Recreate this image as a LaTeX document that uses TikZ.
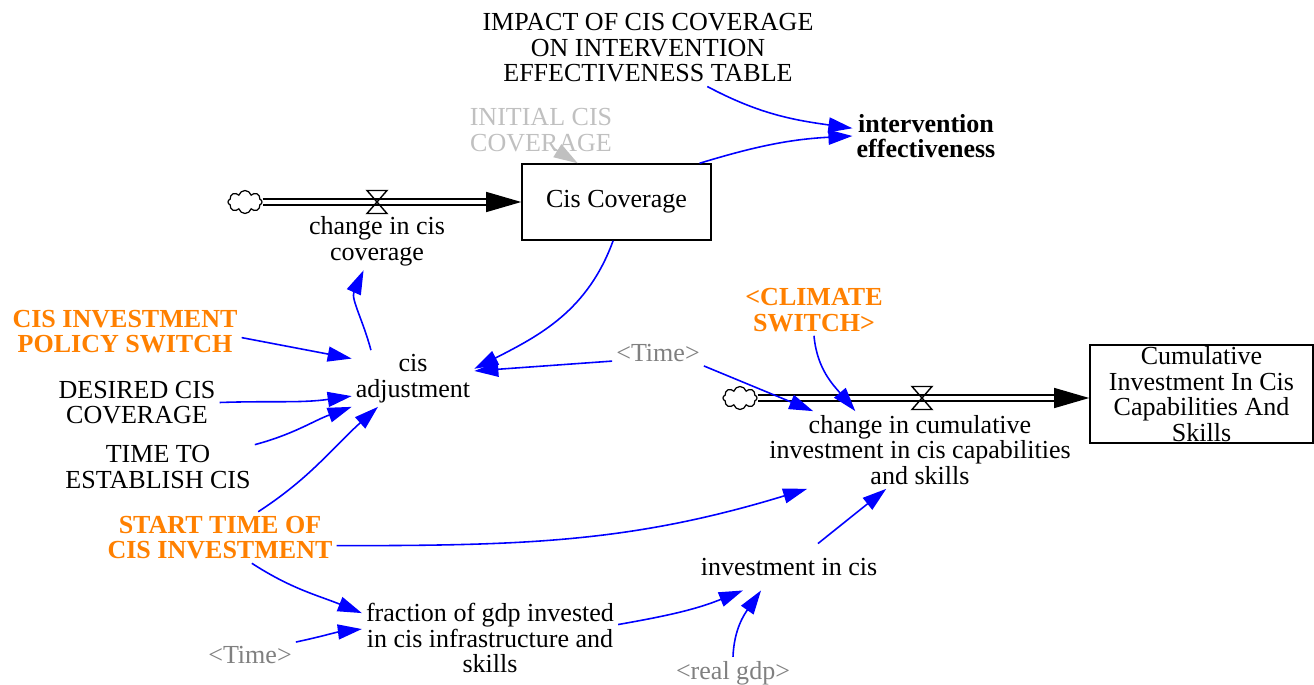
\documentclass[tikz,border=0pt]{standalone}
\usepackage{fontspec}
\setmainfont{Liberation Serif}
\usetikzlibrary{arrows.meta,shapes.symbols}
\definecolor{sdorange}{RGB}{255,128,0}
\definecolor{shadowgray}{RGB}{128,128,128}
\definecolor{initgray}{RGB}{192,192,192}
\newcommand{\sdfont}{\fontsize{7.4}{7.25}\selectfont}
\tikzset{
  varname/.style={align=center, inner sep=1pt, font=\sdfont},
  switchname/.style={varname, text=sdorange, font=\sdfont\bfseries},
  shadowname/.style={varname, text=shadowgray},
  initname/.style={varname, text=initgray},
  stockbox/.style={draw, line width=0.4pt, align=center, inner sep=0pt, font=\sdfont},
  cloudsrc/.style={cloud, cloud puffs=8, draw, line width=0.35pt, inner sep=0pt,
    minimum width=0.34cm, minimum height=0.23cm},
  pipe/.style={double, double distance=0.047cm, line width=0.37pt,
    -{Triangle[length=0.35cm,width=0.2cm]}},
  valveshape/.style={line width=0.4pt},
  link/.style={blue, line width=0.45pt, -{Triangle[length=0.24cm,width=0.15cm]}},
  initlink/.style={initgray, line width=0.45pt, -{Triangle[length=0.24cm,width=0.15cm]}},
}
\begin{document}
\begin{tikzpicture}[x=0.01cm, y=0.01cm]
  \useasboundingbox (0,0) rectangle (1314,684);

  % top part
  \node[varname] (impact) at (648,636) {IMPACT OF CIS COVERAGE\\ON INTERVENTION\\EFFECTIVENESS TABLE};
  \node[varname, font=\sdfont\bfseries] (eff) at (926,548) {intervention\\effectiveness};
  \node[initname] (initcov) at (541,554) {INITIAL CIS\\COVERAGE};
  \node[stockbox, minimum width=1.89cm, minimum height=0.76cm] (cov) at (616.5,482) {Cis Coverage};
  \node[cloudsrc] (src1) at (245,482) {};
  \coordinate (valve1) at (377,482);
  \node[varname] (chcov) at (377,442.5) {change in cis\\coverage};

  % left inputs
  \node[varname] (adj) at (413,305.5) {cis\\adjustment};
  \node[switchname] (policy) at (125,352.5) {CIS INVESTMENT\\POLICY SWITCH};
  \node[varname] (desired) at (137,281.5) {DESIRED CIS\\COVERAGE};
  \node[varname] (establish) at (158,217) {TIME TO\\ESTABLISH CIS};
  \node[switchname] (start) at (220,146.5) {START TIME OF\\CIS INVESTMENT};
  \node[shadowname] (time1) at (658,331) {<Time>};

  % cumulative investment
  \node[switchname] (climate) at (814,374) {<CLIMATE\\SWITCH>};
  \node[stockbox, minimum width=2.23cm, minimum height=0.98cm] (cumul) at (1201.5,290) {Cumulative\\Investment In Cis\\Capabilities And\\Skills};
  \node[cloudsrc] (src2) at (740,286) {};
  \coordinate (valve2) at (922,286);
  \node[varname] (chcum) at (920,234) {change in cumulative\\investment in cis capabilities\\and skills};
  \node[varname, inner ysep=0.14cm] (inv) at (789,117) {investment in cis};
  \node[varname] (frac) at (490,46) {fraction of gdp invested\\in cis infrastructure and\\skills};
  \node[shadowname] (time2) at (250,29) {<Time>};
  \node[shadowname] (gdp) at (733,11) {<real gdp>};

  % flows
  \draw[pipe] (src1.east) -- (cov.west);
  \draw[pipe] (src2.east) -- (src2.east -| cumul.west);
  \foreach \v in {valve1,valve2}
    \draw[valveshape] ([shift={(-10,11.5)}]\v) -- ([shift={(10,11.5)}]\v)
      -- ([shift={(-10,-11.5)}]\v) -- ([shift={(10,-11.5)}]\v) -- cycle;

  % links
  \draw[link] (impact.-33) to[out=-28,in=172] (eff.174);
  \draw[link] (cov.25) to[out=17,in=183] (eff.west);
  \draw[initlink] ([shift={(12,-18)}]initcov.center) -- (cov.135);
  \draw[link] (cov.-95) to[out=250,in=27] (adj.9);
  \draw[link] (time1.190) -- (adj.7);
  \draw[link] (adj.146) to[out=105,in=246] (chcov.245);
  \draw[link] (policy.-3) -- (adj.162);
  \draw[link] (desired.east) to[out=2,in=188] (adj.196);
  \draw[link] (establish.13) to[out=15,in=200] (adj.south west);
  \draw[link] (start.34) to[out=33,in=222] (adj.219);
  \draw[link] (start.-4) to[out=0,in=197] (chcum.199);
  \draw[link] (start.-39) to[out=-33,in=158] (frac.169);
  \draw[link] (time2.north east) to[out=12,in=187] (frac.176);
  \draw[link] (frac.6) to[out=10,in=202] (inv.207);
  \draw[link] (gdp.north) to[out=88,in=235] (inv.220);
  \draw[link] (inv.39) -- (chcum.229);
  \draw[link] (time1.south east) -- (chcum.160);
  \draw[link] (climate.south) to[out=-85,in=130] (chcum.149);
\end{tikzpicture}
\end{document}
